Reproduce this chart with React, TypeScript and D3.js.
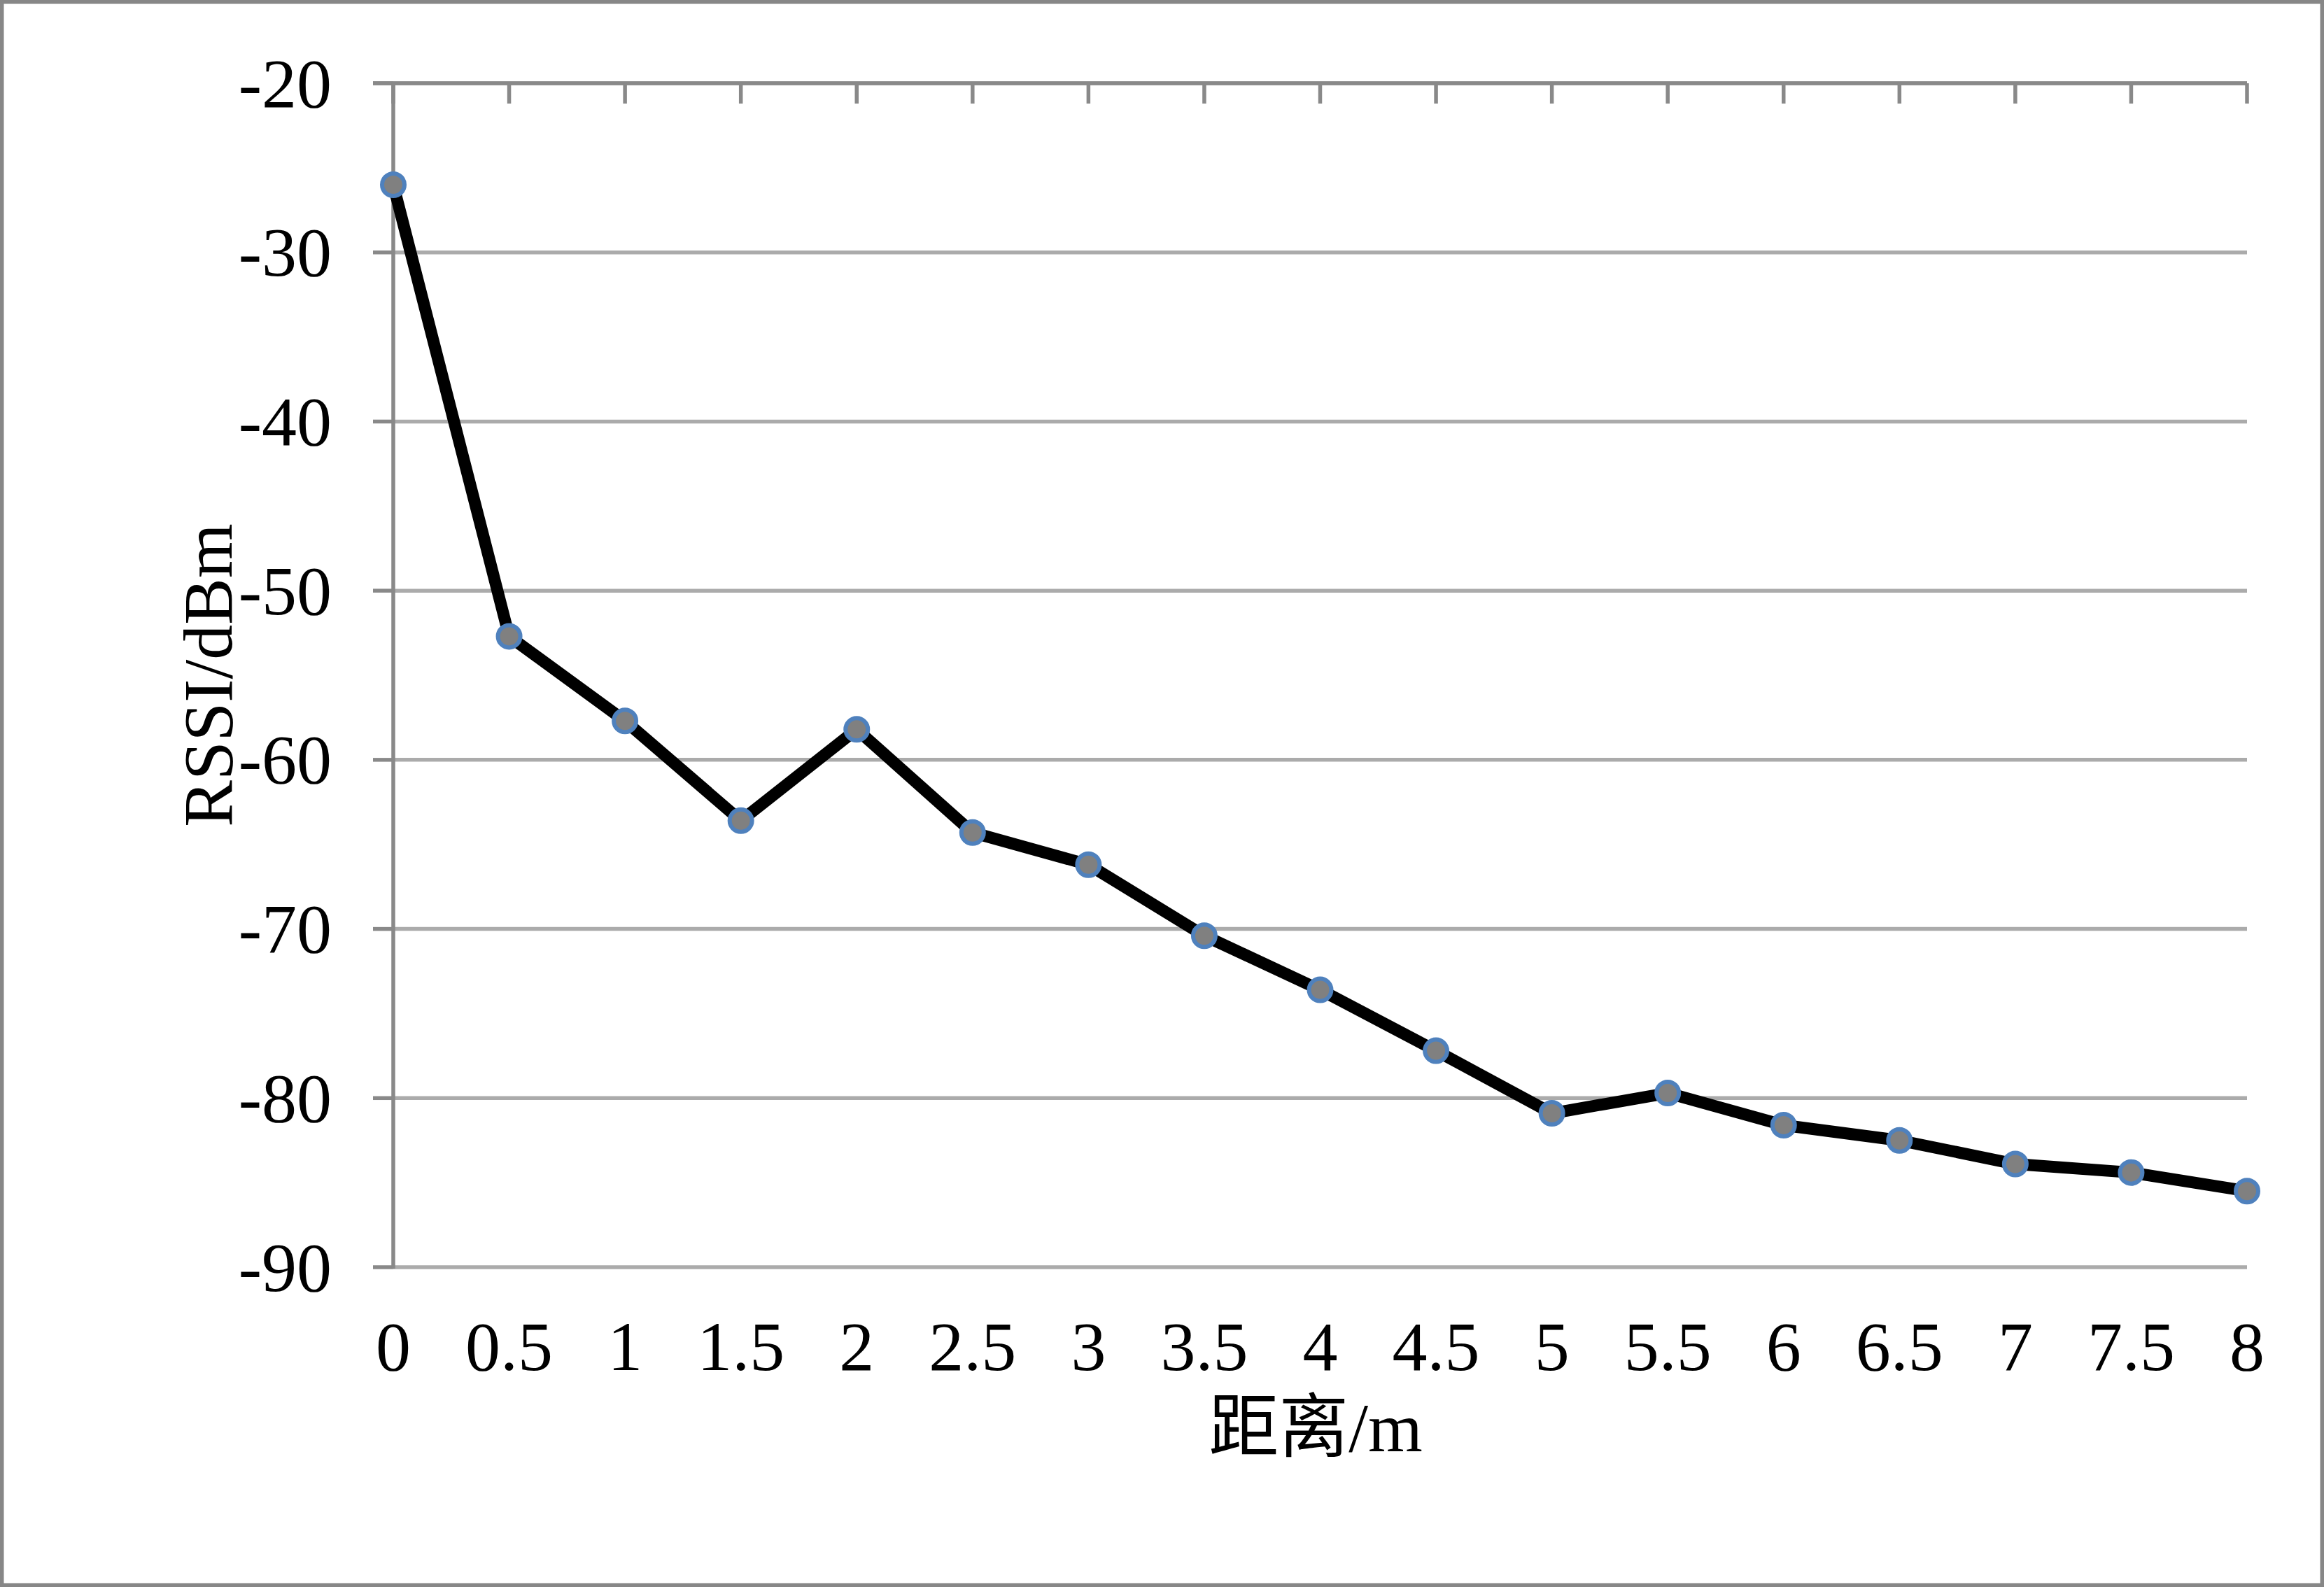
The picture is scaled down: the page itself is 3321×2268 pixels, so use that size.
import React from "react";
import * as d3 from "d3";

const distances = [0, 0.5, 1, 1.5, 2, 2.5, 3, 3.5, 4, 4.5, 5, 5.5, 6, 6.5, 7, 7.5, 8];
const xTickLabels = ["0", "0.5", "1", "1.5", "2", "2.5", "3", "3.5", "4", "4.5", "5", "5.5", "6", "6.5", "7", "7.5", "8"];
const rssi = [-26, -52.7, -57.7, -63.6, -58.2, -64.3, -66.2, -70.4, -73.6, -77.2, -80.9, -79.7, -81.6, -82.5, -83.9, -84.4, -85.5];
const yTicks = [-20, -30, -40, -50, -60, -70, -80, -90];

const W = 3321;
const H = 2268;
const left = 562;
const right = 3211;
const top = 119;
const bottom = 1811;
const font = "'Liberation Serif', 'Times New Roman', 'Noto Sans CJK SC', serif";

export default function App() {
  const x = d3.scaleLinear().domain([0, 8]).range([left, right]);
  const y = d3.scaleLinear().domain([-90, -20]).range([bottom, top]);
  const line = d3
    .line<number>()
    .x((_, i) => x(distances[i]))
    .y((d) => y(d));

  return (
    <svg
      width={W}
      height={H}
      style={{ position: "absolute", left: 0, top: 0, display: "block" }}
      xmlns="http://www.w3.org/2000/svg"
    >
      <rect x={0} y={0} width={W} height={H} fill="#ffffff" />
      <rect x={2.75} y={2.75} width={W - 5.5} height={H - 5.5} fill="none" stroke="#878787" strokeWidth={5.5} />

      {/* gridlines */}
      {yTicks.map((t) => (
        <line key={"g" + t} x1={left} x2={right} y1={y(t)} y2={y(t)} stroke="#ababab" strokeWidth={5.5} />
      ))}
      {/* y ticks (outside) */}
      {yTicks.map((t) => (
        <line key={"yt" + t} x1={left - 29} x2={left} y1={y(t)} y2={y(t)} stroke="#898989" strokeWidth={5.5} />
      ))}
      {/* category axis at top */}
      <line x1={left - 29} x2={right} y1={top} y2={top} stroke="#898989" strokeWidth={5.5} />
      {distances.map((d) => (
        <line key={"xt" + d} x1={x(d)} x2={x(d)} y1={top} y2={top + 29} stroke="#898989" strokeWidth={5.5} />
      ))}
      {/* value axis */}
      <line x1={left} x2={left} y1={top} y2={bottom + 2} stroke="#898989" strokeWidth={5.5} />

      {/* y labels */}
      {yTicks.map((t) => (
        <text
          key={"yl" + t}
          x={474}
          y={y(t)}
          textAnchor="end"
          dominantBaseline="central"
          fontFamily={font}
          fontSize={100}
          fill="#000"
        >
          {t}
        </text>
      ))}
      {/* x labels */}
      {distances.map((d, i) => (
        <text
          key={"xl" + d}
          x={x(d)}
          y={1924}
          textAnchor="middle"
          dominantBaseline="central"
          fontFamily={font}
          fontSize={100}
          fill="#000"
        >
          {xTickLabels[i]}
        </text>
      ))}

      {/* series */}
      <path d={line(rssi) || ""} fill="none" stroke="#000000" strokeWidth={17} strokeLinejoin="round" />
      {rssi.map((v, i) => (
        <circle key={"p" + i} cx={x(distances[i])} cy={y(v)} r={16} fill="#808080" stroke="#4f81bd" strokeWidth={6} />
      ))}

      {/* axis titles */}
      <text
        x={1880}
        y={2040}
        textAnchor="middle"
        dominantBaseline="central"
        fontFamily={font}
        fontSize={100}
        fill="#000"
      >
        距离/m
      </text>
      <text
        transform={`translate(297,965) rotate(-90)`}
        textAnchor="middle"
        dominantBaseline="central"
        fontFamily={font}
        fontSize={100}
        fill="#000"
      >
        RSSI/dBm
      </text>
    </svg>
  );
}
